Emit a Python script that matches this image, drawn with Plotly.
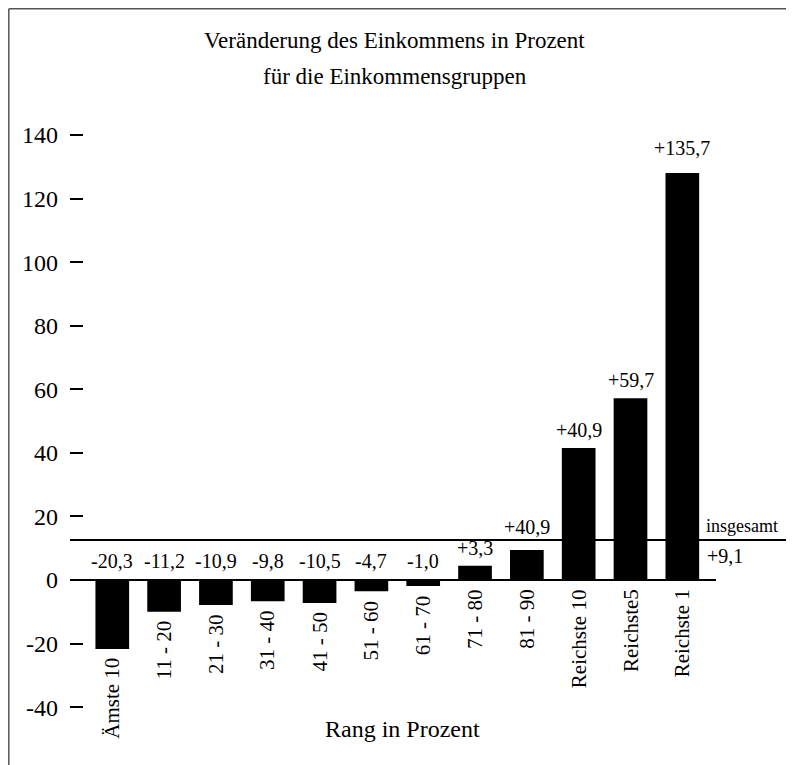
import plotly.graph_objects as go

categories = ["Ämste 10", "11 - 20", "21 - 30", "31 - 40", "41 - 50", "51 - 60",
              "61 - 70", "71 - 80", "81 - 90", "Reichste 10", "Reichste5", "Reichste 1"]
bar_heights = [-21.7, -10.0, -7.9, -6.7, -7.2, -3.5, -1.9, 4.5, 9.4, 41.5, 57.2, 128.0]
value_labels = ["-20,3", "-11,2", "-10,9", "-9,8", "-10,5", "-4,7", "-1,0",
                "+3,3", "+40,9", "+40,9", "+59,7", "+135,7"]
total_level = 12.6
total_label = "+9,1"
y_ticks = [-40, -20, 0, 20, 40, 60, 80, 100, 120, 140]
y_tick_text = ["-40", "-20", "0", "20", "40", "60", "80", "100", "120", "140"]

FONT = "Liberation Serif"
W, H = 794, 765
OFF = 8  # page body margin compensation
ML, MT = 70 - OFF, 100 - OFF
PW, PH = 646, 665
MR = W - ML - PW
MB = H - MT - PH


def px_x(p):
    return (p - OFF - ML) / PW


def px_y(p):
    return (MT + PH - (p - OFF)) / PH


fig = go.Figure()
fig.add_trace(go.Bar(
    x=list(range(len(categories))), y=bar_heights, width=0.65,
    marker=dict(color="black", line=dict(width=0)),
    hoverinfo="skip", showlegend=False,
))

ann = []
for i, (v, lab, cat) in enumerate(zip(bar_heights, value_labels, categories)):
    if v < 0:
        ly, sh = 0, 6
    elif 0 < total_level - v < 5:
        ly, sh = total_level, 0
    elif v > 100:
        ly, sh = v, 12
    else:
        ly, sh = v, 5
    ann.append(dict(x=i, y=ly, xref="x", yref="y", text=lab, showarrow=False,
                    yanchor="bottom", yshift=sh,
                    font=dict(family=FONT, size=20, color="black")))
    ann.append(dict(x=i, y=min(v, 0), xref="x", yref="y", text=cat, showarrow=False,
                    textangle=-90, yanchor="top", yshift=-7,
                    font=dict(family=FONT, size=21, color="black")))

ann += [
    dict(x=px_x(394), y=px_y(40), xref="paper", yref="paper", showarrow=False,
         text="Veränderung des Einkommens in Prozent", yanchor="middle",
         font=dict(family=FONT, size=23, color="black")),
    dict(x=px_x(395), y=px_y(76), xref="paper", yref="paper", showarrow=False,
         text="für die Einkommensgruppen", yanchor="middle",
         font=dict(family=FONT, size=23, color="black")),
    dict(x=px_x(402), y=px_y(729), xref="paper", yref="paper", showarrow=False,
         text="Rang in Prozent", yanchor="middle",
         font=dict(family=FONT, size=24, color="black")),
    dict(x=px_x(704), y=total_level, xref="paper", yref="y", showarrow=False,
         text="insgesamt", xanchor="left", yanchor="bottom", yshift=2,
         font=dict(family=FONT, size=18, color="black")),
    dict(x=px_x(705), y=total_level, xref="paper", yref="y", showarrow=False,
         text=total_label, xanchor="left", yanchor="top", yshift=-3,
         font=dict(family=FONT, size=20, color="black")),
]

shapes = [
    dict(type="line", xref="paper", yref="y", x0=0, x1=1, y0=0, y1=0,
         line=dict(color="black", width=2)),
    dict(type="line", xref="paper", yref="y", x0=0, x1=px_x(810), y0=total_level, y1=total_level,
         line=dict(color="black", width=2)),
    # outer frame (top and left edges visible)
    dict(type="line", xref="paper", yref="paper", x0=px_x(8.8), x1=px_x(800),
         y0=px_y(8.8), y1=px_y(8.8), line=dict(color="#555", width=1.5)),
    dict(type="line", xref="paper", yref="paper", x0=px_x(8.8), x1=px_x(8.8),
         y0=px_y(8.8), y1=px_y(780), line=dict(color="#555", width=1.5)),
]

y_per_px = 1 / 3.179
ymax = (580 - 100) * y_per_px
ymin = -(765 - 580) * y_per_px
xmin = -0.816
xmax = 11.65

fig.update_layout(
    width=W, height=H, margin=dict(l=ML, r=MR, t=MT, b=MB, pad=0),
    paper_bgcolor="white", plot_bgcolor="white",
    annotations=ann, shapes=shapes, showlegend=False,
    font=dict(family=FONT, color="black"),
    xaxis=dict(range=[xmin, xmax], showticklabels=False, showgrid=False,
               zeroline=False, showline=False, ticks=""),
    yaxis=dict(range=[ymin, ymax], tickvals=y_ticks, ticktext=y_tick_text,
               ticks="inside", ticklen=13,
               tickwidth=2, tickcolor="black", showgrid=False, zeroline=False,
               showline=False, ticklabelstandoff=11,
               tickfont=dict(family=FONT, size=24, color="black")),
)

fig.write_html("out.html")
